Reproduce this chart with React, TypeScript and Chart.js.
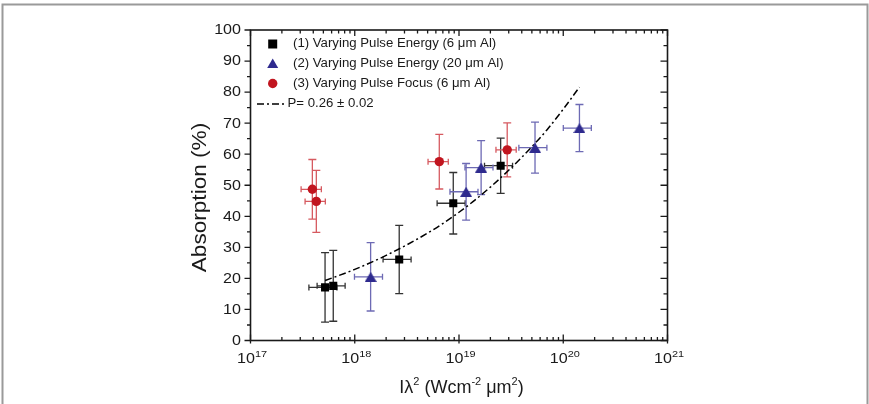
import { useEffect, useRef } from 'react';
import { Chart, registerables } from 'chart.js';

Chart.register(...registerables);

// ---- data ----
const seriesLabels = [
  '(1) Varying Pulse Energy (6 \u03bcm Al)',
  '(2) Varying Pulse Energy (20 \u03bcm Al)',
  '(3) Varying Pulse Focus (6 \u03bcm Al)',
];
const fitLabel = 'P= 0.26 \u00b1 0.02';

// (1) pulse energy scan, 6 um Al
const energy6X = [5.19e17, 6.22e17, 2.67e18, 8.81e18, 2.51e19];
const energy6Y = [17.1, 17.6, 26.1, 44.2, 56.3];
const energy6YErr = [11.2, 11.4, 11.0, 9.9, 8.9];
const energy6XErr = [0.3, 0.3, 0.3, 0.3, 0.3];

// (2) pulse energy scan, 20 um Al
const energy20X = [1.42e18, 1.17e19, 1.63e19, 5.36e19, 1.43e20];
const energy20Y = [20.5, 47.9, 55.7, 62.1, 68.4];
const energy20YErr = [11.0, 9.1, 8.7, 8.2, 7.6];
const energy20XErr = [0.3, 0.3, 0.3, 0.3, 0.3];

// (3) focus scan, 6 um Al
const focusX = [3.92e17, 4.28e17, 6.47e18, 2.9e19];
const focusY = [48.7, 44.8, 57.6, 61.4];
const focusYErr = [9.6, 10.0, 8.8, 8.7];
const focusXErr = [0.22, 0.22, 0.22, 0.22];

// power-law fit curve
const fitX = [5.2e17, 1e18, 2e18, 5e18, 1e19, 2e19, 4e19, 7e19, 1e20, 1.43e20];
const fitY = [19.3, 22.9, 27.4, 34.6, 41.3, 49.4, 59.0, 67.9, 74.5, 81.6];

// axes
const yTicks = [0, 10, 20, 30, 40, 50, 60, 70, 80, 90, 100];
const yMinorTicks = [5, 15, 25, 35, 45, 55, 65, 75, 85, 95];
const xDecades = [17, 18, 19, 20, 21];
const xMinorMultipliers = [2, 3, 4, 5, 6, 7, 8, 9];

const FONT = '"Liberation Sans", Arial, Helvetica, sans-serif';
const INK = '#1a1a1a';

type Run = { text: string; size: number; dy?: number };

function drawRuns(
  ctx: CanvasRenderingContext2D,
  runs: Run[],
  x: number,
  y: number,
  align: 'left' | 'right' | 'center',
  sx: number,
  baseline: CanvasTextBaseline = 'alphabetic'
) {
  ctx.save();
  ctx.textBaseline = baseline;
  ctx.textAlign = 'left';
  ctx.fillStyle = INK;
  let total = 0;
  const widths = runs.map((r) => {
    ctx.font = `${r.size}px ${FONT}`;
    const w = ctx.measureText(r.text).width * sx;
    total += w;
    return w;
  });
  let cx = align === 'left' ? x : align === 'right' ? x - total : x - total / 2;
  runs.forEach((r, i) => {
    ctx.save();
    ctx.font = `${r.size}px ${FONT}`;
    ctx.translate(cx, y + (r.dy || 0));
    ctx.scale(sx, 1);
    ctx.fillText(r.text, 0, 0);
    ctx.restore();
    cx += widths[i];
  });
  ctx.restore();
}

function makeTriangle(color: string, w: number, h: number) {
  const c = document.createElement('canvas');
  c.width = w;
  c.height = h;
  const g = c.getContext('2d')!;
  g.fillStyle = color;
  g.beginPath();
  g.moveTo(w / 2, 0);
  g.lineTo(w, h);
  g.lineTo(0, h);
  g.closePath();
  g.fill();
  return c;
}

const BLACK = '#000000';
const BLUE = '#2e2a8e';
const RED = '#c1151f';

const markerSeries = [
  { x: energy6X, y: energy6Y, yErr: energy6YErr, xErr: energy6XErr, bar: '#333333' },
  { x: energy20X, y: energy20Y, yErr: energy20YErr, xErr: energy20XErr, bar: '#6d6ab4' },
  { x: focusX, y: focusY, yErr: focusYErr, xErr: focusXErr, bar: '#d65a60' },
];

const errorBarPlugin = {
  id: 'errorBars',
  beforeDatasetsDraw(chart: any) {
    const { ctx } = chart;
    const xs = chart.scales.x;
    const ys = chart.scales.y;
    markerSeries.forEach((s) => {
      ctx.save();
      ctx.strokeStyle = s.bar;
      ctx.lineWidth = 1.3;
      s.x.forEach((xv, i) => {
        const px = xs.getPixelForValue(xv);
        const py = ys.getPixelForValue(s.y[i]);
        const top = ys.getPixelForValue(s.y[i] + s.yErr[i]);
        const bot = ys.getPixelForValue(s.y[i] - s.yErr[i]);
        const lft = xs.getPixelForValue(xv * (1 - s.xErr[i]));
        const rgt = xs.getPixelForValue(xv * (1 + s.xErr[i]));
        ctx.beginPath();
        ctx.moveTo(px, top);
        ctx.lineTo(px, bot);
        ctx.moveTo(px - 4, top);
        ctx.lineTo(px + 4, top);
        ctx.moveTo(px - 4, bot);
        ctx.lineTo(px + 4, bot);
        ctx.moveTo(lft, py);
        ctx.lineTo(rgt, py);
        ctx.moveTo(lft, py - 3);
        ctx.lineTo(lft, py + 3);
        ctx.moveTo(rgt, py - 3);
        ctx.lineTo(rgt, py + 3);
        ctx.stroke();
      });
      ctx.restore();
    });
  },
};

const framePlugin = {
  id: 'frameAxes',
  beforeDraw(chart: any) {
    const { ctx, width } = chart;
    ctx.save();
    ctx.strokeStyle = '#9a9a9a';
    ctx.lineWidth = 2;
    ctx.beginPath();
    ctx.moveTo(2.5, chart.height);
    ctx.lineTo(2.5, 4.5);
    ctx.lineTo(width - 1.5, 4.5);
    ctx.lineTo(width - 1.5, chart.height);
    ctx.stroke();
    ctx.restore();
  },
  afterDraw(chart: any) {
    const { ctx, chartArea } = chart;
    const { left, right, top, bottom } = chartArea;
    const xs = chart.scales.x;
    const ys = chart.scales.y;

    // axis box
    ctx.save();
    ctx.strokeStyle = INK;
    ctx.lineWidth = 1.6;
    ctx.strokeRect(left, top, right - left, bottom - top);

    // ticks
    ctx.lineWidth = 1.3;
    ctx.beginPath();
    yTicks.forEach((v) => {
      const p = ys.getPixelForValue(v);
      ctx.moveTo(left - 6, p);
      ctx.lineTo(left, p);
      ctx.moveTo(right - 7, p);
      ctx.lineTo(right, p);
    });
    yMinorTicks.forEach((v) => {
      const p = ys.getPixelForValue(v);
      ctx.moveTo(left - 3.5, p);
      ctx.lineTo(left, p);
      ctx.moveTo(right - 4, p);
      ctx.lineTo(right, p);
    });
    xDecades.forEach((d, k) => {
      const p = xs.getPixelForValue(Math.pow(10, d));
      ctx.moveTo(p, bottom + 3);
      ctx.lineTo(p, bottom - 6);
      ctx.moveTo(p, top);
      ctx.lineTo(p, top + 6);
      if (k < xDecades.length - 1) {
        xMinorMultipliers.forEach((m) => {
          const q = xs.getPixelForValue(m * Math.pow(10, d));
          ctx.moveTo(q, bottom);
          ctx.lineTo(q, bottom - 3.5);
          ctx.moveTo(q, top);
          ctx.lineTo(q, top + 3.5);
        });
      }
    });
    ctx.stroke();
    ctx.restore();

    // y tick labels
    yTicks.forEach((v) => {
      drawRuns(ctx, [{ text: String(v), size: 14 }], left - 9.5, ys.getPixelForValue(v) + 0.5, 'right', 1.15, 'middle');
    });

    // x tick labels: 10^n
    xDecades.forEach((d) => {
      const p = xs.getPixelForValue(Math.pow(10, d));
      drawRuns(
        ctx,
        [
          { text: '10', size: 14 },
          { text: String(d), size: 9.5, dy: -6 },
        ],
        p + 1.5,
        bottom + 22.5,
        'center',
        1.15
      );
    });

    // axis titles
    drawRuns(
      ctx,
      [
        { text: 'I\u03bb', size: 18 },
        { text: '2', size: 11, dy: -7.5 },
        { text: ' (Wcm', size: 18 },
        { text: '-2', size: 11, dy: -7.5 },
        { text: ' \u03bcm', size: 18 },
        { text: '2', size: 11, dy: -7.5 },
        { text: ')', size: 18 },
      ],
      (left + right) / 2 + 2.5,
      bottom + 52,
      'center',
      1.0
    );
    ctx.save();
    ctx.translate(left - 50.5, 197.5);
    ctx.rotate(-Math.PI / 2);
    drawRuns(ctx, [{ text: 'Absorption (%)', size: 20 }], 0, 0, 'center', 1.13, 'middle');
    ctx.restore();

    // legend
    const symX = left + 22.2;
    const textX = left + 42.5;
    const rows = [top + 14, top + 33.5, top + 53.5, top + 74];
    ctx.save();
    ctx.fillStyle = BLACK;
    ctx.fillRect(symX - 4.5, rows[0] - 4.5, 9, 9);
    ctx.fillStyle = BLUE;
    ctx.beginPath();
    ctx.moveTo(symX, rows[1] - 5);
    ctx.lineTo(symX + 5.5, rows[1] + 4.5);
    ctx.lineTo(symX - 5.5, rows[1] + 4.5);
    ctx.closePath();
    ctx.fill();
    ctx.fillStyle = RED;
    ctx.beginPath();
    ctx.arc(symX, rows[2], 4.7, 0, Math.PI * 2);
    ctx.fill();
    ctx.strokeStyle = BLACK;
    ctx.lineWidth = 1.5;
    ctx.setLineDash([7, 3, 2, 3]);
    ctx.beginPath();
    ctx.moveTo(left + 6.5, rows[3]);
    ctx.lineTo(left + 35.5, rows[3]);
    ctx.stroke();
    ctx.restore();
    seriesLabels.forEach((t, i) => {
      drawRuns(ctx, [{ text: t, size: 12 }], textX, rows[i], 'left', 1.1, 'middle');
    });
    drawRuns(ctx, [{ text: fitLabel, size: 12 }], left + 37, rows[3], 'left', 1.1, 'middle');
  },
};

export default function App() {
  const ref = useRef<HTMLCanvasElement>(null);

  useEffect(() => {
    const triangle = makeTriangle(BLUE, 12, 10);
    const chart = new Chart(ref.current!, {
      type: 'scatter',
      data: {
        datasets: [
          {
            type: 'line',
            label: fitLabel,
            data: fitX.map((x, i) => ({ x, y: fitY[i] })),
            borderColor: BLACK,
            borderWidth: 1.5,
            borderDash: [7, 3, 2, 3],
            pointRadius: 0,
            cubicInterpolationMode: 'monotone',
            fill: false,
            order: 4,
          },
          {
            label: seriesLabels[0],
            data: energy6X.map((x, i) => ({ x, y: energy6Y[i] })),
            pointStyle: 'rect',
            pointRadius: 5.7,
            backgroundColor: BLACK,
            borderWidth: 0,
            order: 3,
          },
          {
            label: seriesLabels[1],
            data: energy20X.map((x, i) => ({ x, y: energy20Y[i] })),
            pointStyle: triangle as any,
            pointRadius: 6,
            backgroundColor: BLUE,
            borderWidth: 0,
            order: 2,
          },
          {
            label: seriesLabels[2],
            data: focusX.map((x, i) => ({ x, y: focusY[i] })),
            pointStyle: 'circle',
            pointRadius: 4.7,
            backgroundColor: RED,
            borderWidth: 0,
            order: 1,
          },
        ],
      } as any,
      options: {
        animation: false,
        responsive: false,
        devicePixelRatio: 1,
        layout: { padding: { left: 250.5, right: 201.5, top: 30, bottom: 63.5 } },
        scales: {
          x: { type: 'logarithmic', min: 1e17, max: 1e21, display: false },
          y: { type: 'linear', min: 0, max: 100, display: false },
        },
        plugins: {
          legend: { display: false },
          tooltip: { enabled: false },
        },
        events: [],
      },
      plugins: [framePlugin, errorBarPlugin],
    });
    return () => chart.destroy();
  }, []);

  return (
    <div style={{ position: 'fixed', left: 0, top: 0, width: 869, height: 404, background: '#ffffff' }}>
      <canvas ref={ref} width={869} height={404} style={{ display: 'block', width: 869, height: 404 }} />
    </div>
  );
}
